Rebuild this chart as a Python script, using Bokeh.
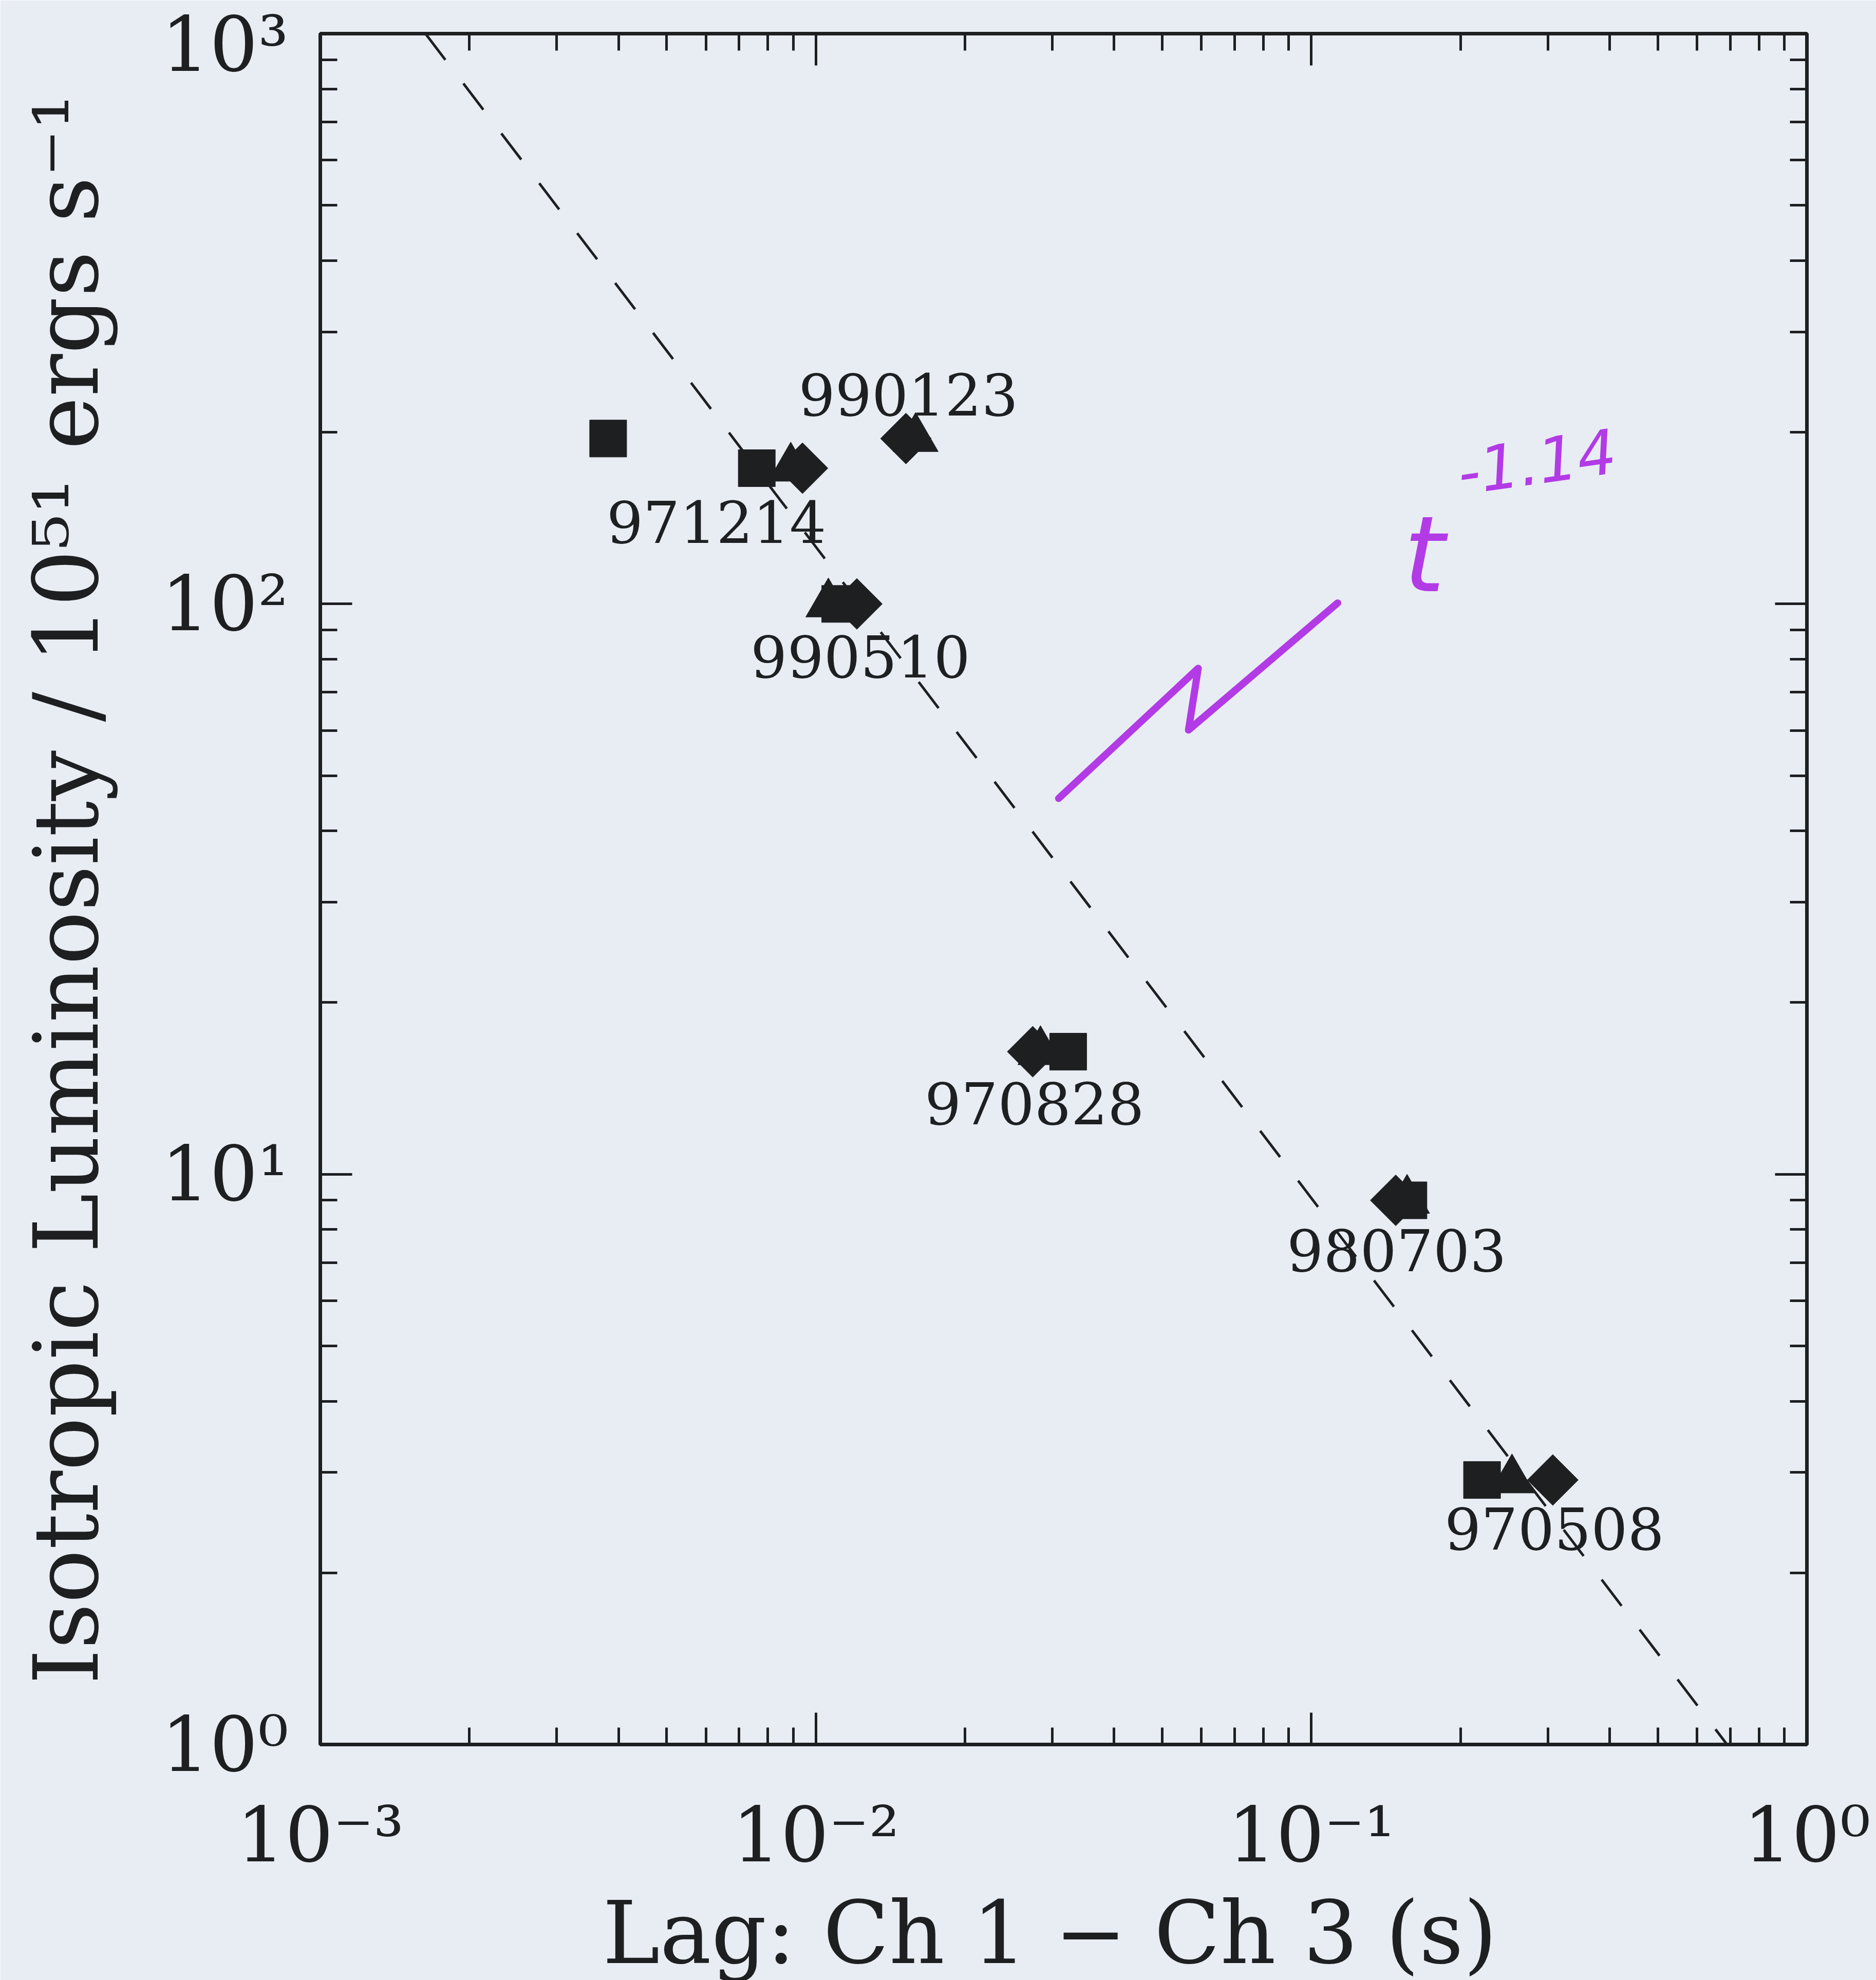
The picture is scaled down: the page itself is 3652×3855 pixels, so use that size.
import numpy as np
from bokeh.plotting import figure
from bokeh.models import LogAxis, FixedTicker, ColumnDataSource
from bokeh.core.properties import value
from bokeh.embed import file_html
from bokeh.resources import INLINE

# ---- data ----
grbs = ["990123", "971214", "990510", "970828", "980703", "970508"]
luminosity = [195.0, 173.0, 100.0, 16.4, 9.0, 2.91]          # 10^51 erg/s
lag_square = [0.00381, 0.0076, 0.0112, 0.0323, 0.157, 0.221]
lag_triangle = [0.0159, 0.0089, 0.0106, 0.0284, 0.156, 0.254]
lag_diamond = [0.0152, 0.0094, 0.0121, 0.0274, 0.148, 0.307]

label_x = [0.01537, 0.00630, 0.01230, 0.02762, 0.1486, 0.3093]
label_y = [232.8, 139.3, 80.9, 13.33, 7.36, 2.394]

fit_lag = [0.00163, 0.69]       # dashed power law ~ tau^-1.14
fit_lum = [1000.0, 1.0]

note_x = [0.0309, 0.0591, 0.0565, 0.1130]   # hand-drawn magenta zigzag
note_y = [45.6, 77.1, 60.1, 100.4]
note_t_x, note_t_y = [0.169], [122.0]
note_exp_x, note_exp_y = [0.285], [178.0]

x_ticks = [1e-3, 1e-2, 1e-1, 1e0]
x_tick_labels = ["10\u207b\u00b3", "10\u207b\u00b2", "10\u207b\u00b9", "10\u2070"]
y_ticks = [1, 10, 100, 1000]
y_tick_labels = ["10\u2070", "10\u00b9", "10\u00b2", "10\u00b3"]

x_title = "Lag:  Ch 1 \u2212 Ch 3 (s)"
y_title = "Isotropic Luminosity / 10\u2075\u00b9 ergs s\u207b\u00b9"

# ---- styling ----
BG = "#e8edf3"
INK = "#1d1f21"
MAGENTA = "#b23be6"
FONT = "DejaVu Serif"

x_minor = [m * 10.0 ** e for e in range(-3, 0) for m in range(2, 10)]
y_minor = [m * 10.0 ** e for e in range(0, 3) for m in range(2, 10)]

p = figure(x_axis_type="log", y_axis_type="log",
           x_range=(1e-3, 1.0), y_range=(1.0, 1000.0),
           frame_width=2894, frame_height=3331,
           min_border_left=623, min_border_right=135,
           min_border_top=65, min_border_bottom=459,
           output_backend="svg", toolbar_location=None)

p.background_fill_color = BG
p.border_fill_color = BG
p.outline_line_color = INK
p.outline_line_width = 7
p.grid.visible = False


def style_axis(ax, show_labels, title_size="160px"):
    ax.axis_line_color = INK
    ax.axis_line_width = 7
    ax.major_tick_in = 62
    ax.major_tick_out = 0
    ax.minor_tick_in = 33
    ax.minor_tick_out = 0
    ax.major_tick_line_color = INK
    ax.minor_tick_line_color = INK
    ax.major_tick_line_width = 5
    ax.minor_tick_line_width = 5
    if show_labels:
        ax.major_label_text_font = FONT
        ax.major_label_text_font_size = "148px"
        ax.major_label_text_color = INK
        ax.axis_label_text_font = FONT
        ax.axis_label_text_font_size = title_size
        ax.axis_label_text_font_style = "normal"
        ax.axis_label_text_color = INK
    else:
        ax.major_label_text_font_size = "8px"
        ax.major_label_text_alpha = 0.0
        ax.major_label_standoff = 0


xa = p.xaxis[0]
xa.ticker = FixedTicker(ticks=x_ticks, minor_ticks=x_minor)
xa.major_label_overrides = {t: s for t, s in zip(x_ticks, x_tick_labels)}
xa.axis_label = x_title
style_axis(xa, True, "168px")
xa.major_label_standoff = 90
xa.axis_label_standoff = 4

ya = p.yaxis[0]
ya.ticker = FixedTicker(ticks=y_ticks, minor_ticks=y_minor)
ya.major_label_overrides = {t: s for t, s in zip(y_ticks, y_tick_labels)}
ya.axis_label = y_title
style_axis(ya, True, "174px")
ya.major_label_standoff = 62
ya.axis_label_standoff = 80

top = LogAxis(ticker=FixedTicker(ticks=x_ticks, minor_ticks=x_minor))
style_axis(top, False)
p.add_layout(top, "above")
right = LogAxis(ticker=FixedTicker(ticks=y_ticks, minor_ticks=y_minor))
style_axis(right, False)
p.add_layout(right, "right")

# dashed power-law line
p.line(fit_lag, fit_lum, line_color=INK, line_width=5, line_dash="64 58")

src = ColumnDataSource(dict(grb=grbs, L=luminosity, sq=lag_square,
                            tri=lag_triangle, dia=lag_diamond,
                            lx=label_x, ly=label_y))

p.scatter("sq", "L", source=src, marker="square", size=72,
          fill_color=INK, line_color=INK)
p.scatter("tri", "L", source=src, marker="triangle", size=88,
          fill_color=INK, line_color=INK)
p.scatter("dia", "L", source=src, marker="square", size=70, angle=np.pi / 4,
          fill_color=INK, line_color=INK)

p.text("lx", "ly", text="grb", source=src, text_font=value(FONT),
       text_font_size="112px", text_color=INK, text_align="center",
       text_baseline="middle")

# hand-written magenta annotation
p.line(note_x, note_y, line_color=MAGENTA, line_width=14,
       line_join="round", line_cap="round")
p.text(note_t_x, note_t_y, text=["t"], text_font=value("DejaVu Sans"),
       text_font_style="italic", text_font_size="205px", text_color=MAGENTA,
       text_align="center", text_baseline="middle")
p.text(note_exp_x, note_exp_y, text=["-1.14"], text_font=value("DejaVu Sans"),
       text_font_style="italic", text_font_size="120px",
       text_color=MAGENTA, text_align="center", text_baseline="middle",
       angle=0.14)

open("out.html", "w").write(file_html(p, INLINE))
